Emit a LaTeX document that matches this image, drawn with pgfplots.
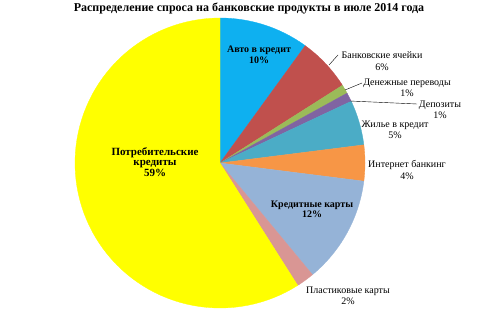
\documentclass[border=0pt]{standalone}
\usepackage{pgfplots}
\pgfplotsset{compat=1.18}
\usepackage{fontspec}
\setmainfont{Liberation Serif}
\definecolor{cBlue}{RGB}{14,176,240}
\definecolor{cRed}{RGB}{192,80,77}
\definecolor{cOlive}{RGB}{155,187,89}
\definecolor{cPurple}{RGB}{128,100,162}
\definecolor{cTeal}{RGB}{75,172,198}
\definecolor{cOrange}{RGB}{247,150,70}
\definecolor{cLight}{RGB}{149,179,215}
\definecolor{cPink}{RGB}{217,150,148}
\definecolor{cYellow}{RGB}{255,255,0}
\def\cx{220}
\def\cy{148}
\def\rr{145}
% #1 colour, #2 cumulative percent before slice, #3 slice percent
\newcommand{\slice}[3]{%
  \pgfmathsetmacro\angA{90-3.6*(#2)}%
  \pgfmathsetmacro\angB{90-3.6*(#2+#3)}%
  \edef\tmp{\noexpand\addplot[fill=#1, draw=#1, line width=0.3pt, domain=\angB:\angA, samples=80, variable=\noexpand\t]
    ({\cx+\rr*cos(\noexpand\t)},{\cy+\rr*sin(\noexpand\t)}) -- (axis cs:\cx,\cy) -- cycle;}%
  \tmp
}
\begin{document}
\begin{tikzpicture}
\begin{axis}[
  scale only axis, width=500pt, height=311pt,
  xmin=0, xmax=500, ymin=0, ymax=311,
  hide axis, clip=false,
]
% percentages: 10, 6, 1, 1, 5, 4, 12, 2, 59
\slice{cBlue}{0}{10}
\slice{cRed}{10}{6}
\slice{cOlive}{16}{1}
\slice{cPurple}{17}{1}
\slice{cTeal}{18}{5}
\slice{cOrange}{23}{4}
\slice{cLight}{27}{12}
\slice{cPink}{39}{2}
\slice{cYellow}{41}{59}

\node[font=\bfseries\fontsize{12}{14}\selectfont] at (axis cs:249,302) {Распределение спроса на банковские продукты в июле 2014 года};

\begin{scope}[every node/.style={align=center, font=\fontsize{10}{11.5}\selectfont, inner sep=0pt}]
\node[font=\bfseries\fontsize{10}{11}\selectfont] at (axis cs:259,256.5) {Авто в кредит\\10\%};
\node at (axis cs:382,250) {Банковские ячейки\\6\%};
\node at (axis cs:407,223) {Денежные переводы\\1\%};
\node at (axis cs:440,201) {Депозиты\\1\%};
\node at (axis cs:395,181) {Жилье в кредит\\5\%};
\node at (axis cs:407,141) {Интернет банкинг\\4\%};
\node[font=\bfseries\fontsize{10}{10.5}\selectfont] at (axis cs:312,101.5) {Кредитные карты\\12\%};
\node at (axis cs:348,15) {Пластиковые карты\\2\%};
\node[font=\bfseries\fontsize{11}{10.5}\selectfont] at (axis cs:155,149) {Потребительские\\кредиты\\59\%};
\end{scope}
\draw[black, line width=0.4pt] (axis cs:329,246) -- (axis cs:338,256);
\draw[black, line width=0.4pt] (axis cs:345,221) -- (axis cs:362,228);
\draw[black, line width=0.4pt] (axis cs:350,210) -- (axis cs:417,207);
\end{axis}
\path (current axis.south west) rectangle (current axis.north east);
\end{tikzpicture}
\end{document}
